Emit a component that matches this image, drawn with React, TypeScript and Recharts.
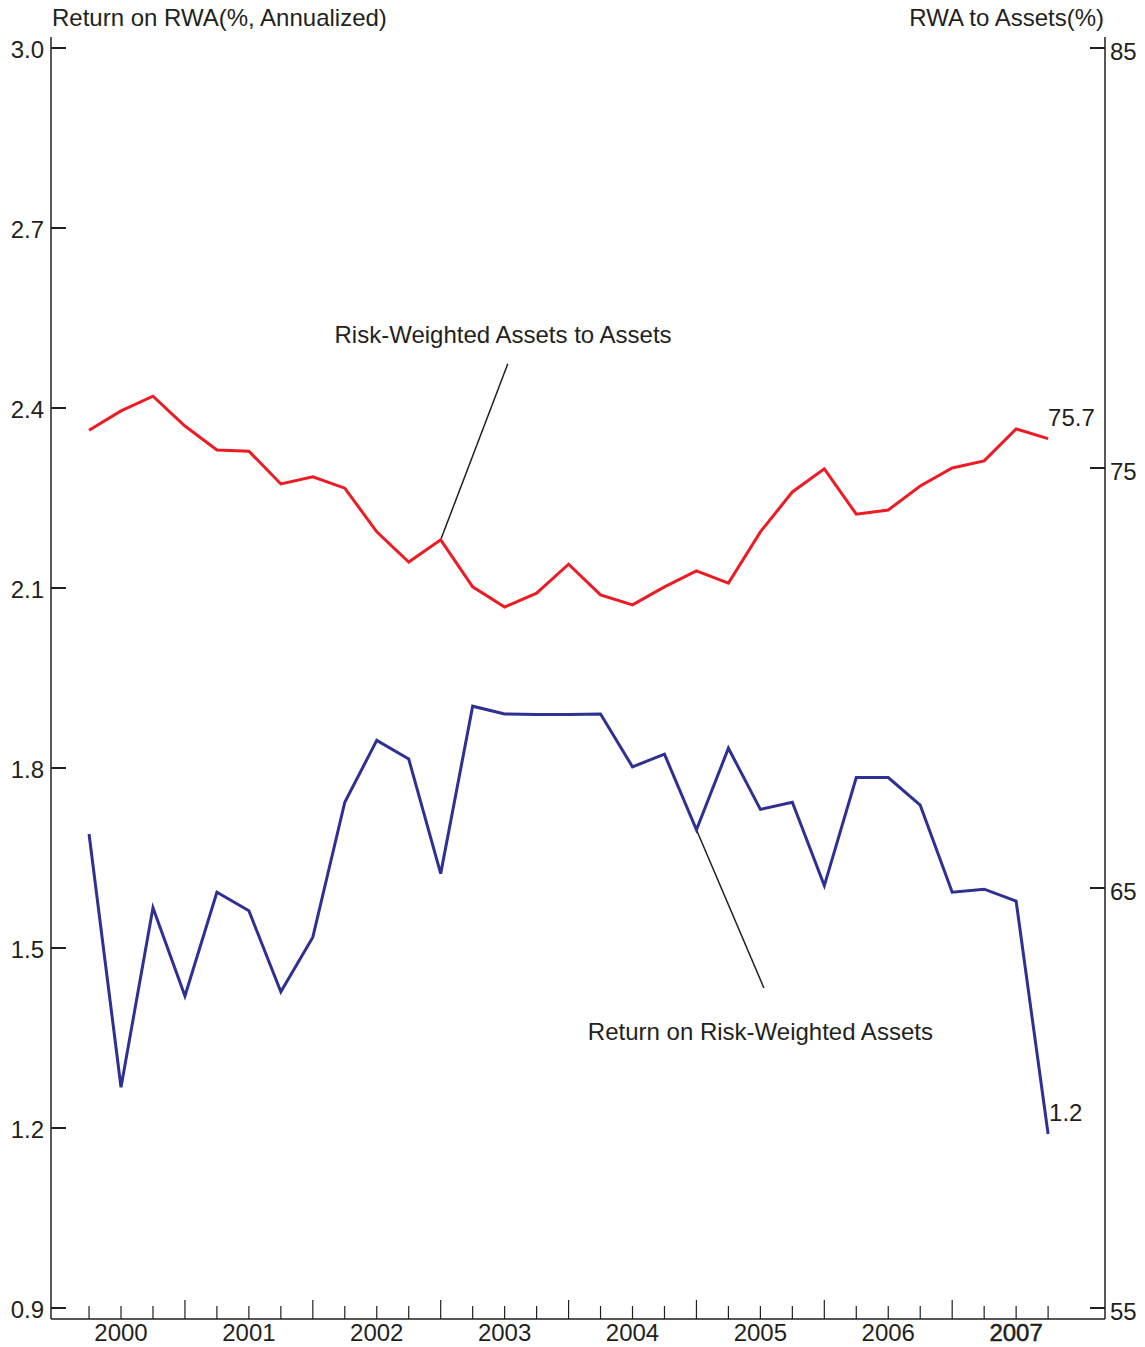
import React from 'react';
import { LineChart, Line, XAxis, YAxis, ReferenceLine, ReferenceDot } from 'recharts';

const quarters = [
  '2000Q1', '2000Q2', '2000Q3', '2000Q4',
  '2001Q1', '2001Q2', '2001Q3', '2001Q4',
  '2002Q1', '2002Q2', '2002Q3', '2002Q4',
  '2003Q1', '2003Q2', '2003Q3', '2003Q4',
  '2004Q1', '2004Q2', '2004Q3', '2004Q4',
  '2005Q1', '2005Q2', '2005Q3', '2005Q4',
  '2006Q1', '2006Q2', '2006Q3', '2006Q4',
  '2007Q1', '2007Q2', '2007Q3',
];

// Right axis: RWA to Assets (%)
const rwaToAssets = [
  75.9, 76.36, 76.71, 76.0, 75.43, 75.4, 74.62, 74.79,
  74.52, 73.48, 72.76, 73.29, 72.17, 71.69, 72.02, 72.71,
  71.98, 71.74, 72.17, 72.55, 72.26, 73.48, 74.43, 74.98,
  73.9, 74.0, 74.57, 75.0, 75.17, 75.93, 75.7,
];

// Left axis: Return on RWA (%, annualized)
const returnOnRwa = [
  1.69, 1.268, 1.567, 1.42, 1.593, 1.562, 1.427, 1.518,
  1.743, 1.846, 1.815, 1.624, 1.903, 1.89, 1.889, 1.889,
  1.89, 1.802, 1.823, 1.697, 1.833, 1.731, 1.743, 1.604,
  1.784, 1.784, 1.738, 1.593, 1.598, 1.578, 1.19,
];

const leftTicks = [0.9, 1.2, 1.5, 1.8, 2.1, 2.4, 2.7, 3.0];
const rightTicks = [55, 65, 75, 85];

const leftTitle = 'Return on RWA(%, Annualized)';
const rightTitle = 'RWA to Assets(%)';
const rwaLabel = 'Risk-Weighted Assets to Assets';
const roaLabel = 'Return on Risk-Weighted Assets';
const rwaEndLabel = '75.7';
const roaEndLabel = '1.2';

const data = quarters.map((q, i) => ({ i, q, rwa: rwaToAssets[i], roa: returnOnRwa[i] }));
const xTicks = quarters.map((_, i) => i);

const INK = '#231F20';
const RED = '#ED1C24';
const BLUE = '#2E3192';
const FONT = '"Liberation Sans", Arial, Helvetica, sans-serif';
const FS = 24;

const XDOMAIN: [number, number] = [-1.19, 31.78];

const XTick = (props: any) => {
  const { x, y, payload } = props;
  const q = quarters[payload.value];
  if (!q) return null;
  const qtr = q.slice(4);
  const isLong = qtr === 'Q4';
  const isLastYear = q.slice(0, 4) === quarters[quarters.length - 1].slice(0, 4);
  return (
    <g>
      <line x1={x} x2={x} y1={y} y2={y - (isLong ? 19 : 13)} stroke={INK} strokeWidth={1.2} />
      {qtr === 'Q2' && (
        <text
          x={x}
          y={y + 22}
          textAnchor="middle"
          fill={INK}
          stroke={isLastYear ? INK : 'none'}
          strokeWidth={isLastYear ? 0.5 : 0}
          fontFamily={FONT}
          fontSize={FS}
        >
          {q.slice(0, 4)}
        </text>
      )}
    </g>
  );
};

const LeftTick = (props: any) => {
  const { x, y, payload } = props;
  return (
    <g>
      <line x1={x} x2={x + 15} y1={y} y2={y} stroke={INK} strokeWidth={2} />
      <text x={x - 7} y={y + 10} textAnchor="end" fill={INK} fontFamily={FONT} fontSize={FS}>
        {Number(payload.value).toFixed(1)}
      </text>
    </g>
  );
};

const RightTick = (props: any) => {
  const { x, y, payload } = props;
  return (
    <g>
      <line x1={x} x2={x - 15} y1={y} y2={y} stroke={INK} strokeWidth={2} />
      <text x={x + 5} y={y + 12} textAnchor="start" fill={INK} fontFamily={FONT} fontSize={FS}>
        {String(payload.value)}
      </text>
    </g>
  );
};

const textShape = (label: string, anchor: 'start' | 'middle' | 'end', dx: number, dy: number) =>
  (p: any) => (
    <text x={p.cx + dx} y={p.cy + dy} textAnchor={anchor} fill={INK} fontFamily={FONT} fontSize={FS}>
      {label}
    </text>
  );

export default function App() {
  const last = quarters.length - 1;
  return (
    <div style={{ position: 'absolute', left: 0, top: 0, width: 1145, height: 1347, background: '#fff' }}>
      <div
        style={{
          position: 'absolute', left: 52, top: 6, fontFamily: FONT, fontSize: FS,
          lineHeight: '24px', color: INK, whiteSpace: 'nowrap',
        }}
      >
        {leftTitle}
      </div>
      <div
        style={{
          position: 'absolute', left: 0, width: 1104, top: 6, fontFamily: FONT, fontSize: FS,
          lineHeight: '24px', color: INK, textAlign: 'right', whiteSpace: 'nowrap',
        }}
      >
        {rightTitle}
      </div>
      <div style={{ position: 'absolute', left: 0, top: 0 }}>
        <LineChart width={1145} height={1347} data={data} margin={{ top: 37, right: 0, bottom: 0, left: 0 }}>
          <XAxis
            dataKey="i"
            type="number"
            domain={XDOMAIN}
            allowDataOverflow
            ticks={xTicks}
            interval={0}
            tickSize={0}
            tickMargin={0}
            tickLine={false}
            height={28}
            axisLine={{ stroke: INK, strokeWidth: 1.5 }}
            tick={(p: any) => <XTick {...p} />}
          />
          <XAxis
            xAxisId="top"
            orientation="top"
            type="number"
            domain={XDOMAIN}
            allowDataOverflow
            height={0}
            tick={false}
            tickLine={false}
            axisLine={{ stroke: INK, strokeWidth: 1.5 }}
          />
          <YAxis
            yAxisId="left"
            type="number"
            width={51}
            domain={[0.8817, 3.0183]}
            allowDataOverflow
            ticks={leftTicks}
            interval={0}
            tickSize={0}
            tickMargin={0}
            tickLine={false}
            axisLine={{ stroke: INK, strokeWidth: 1.5 }}
            tick={(p: any) => <LeftTick {...p} />}
          />
          <YAxis
            yAxisId="right"
            orientation="right"
            type="number"
            width={40}
            domain={[54.738, 85.262]}
            allowDataOverflow
            ticks={rightTicks}
            interval={0}
            tickSize={0}
            tickMargin={0}
            tickLine={false}
            axisLine={{ stroke: INK, strokeWidth: 1.5 }}
            tick={(p: any) => <RightTick {...p} />}
          />
          <ReferenceLine
            yAxisId="right"
            segment={[{ x: 11, y: rwaToAssets[11] }, { x: 13.1, y: 77.48 }]}
            stroke={INK}
            strokeWidth={1.5}
            ifOverflow="visible"
          />
          <ReferenceLine
            yAxisId="left"
            segment={[{ x: 19, y: returnOnRwa[19] }, { x: 21.11, y: 1.4333 }]}
            stroke={INK}
            strokeWidth={1.5}
            ifOverflow="visible"
          />
          <Line
            yAxisId="right"
            dataKey="rwa"
            stroke={RED}
            strokeWidth={3}
            dot={false}
            activeDot={false}
            isAnimationActive={false}
          />
          <Line
            yAxisId="left"
            dataKey="roa"
            stroke={BLUE}
            strokeWidth={3}
            dot={false}
            activeDot={false}
            isAnimationActive={false}
          />
          <ReferenceDot
            yAxisId="right"
            x={12.95}
            y={77.976}
            r={0}
            ifOverflow="visible"
            shape={textShape(rwaLabel, 'middle', 0, 0)}
          />
          <ReferenceDot
            yAxisId="left"
            x={21}
            y={1.3467}
            r={0}
            ifOverflow="visible"
            shape={textShape(roaLabel, 'middle', 0, 0)}
          />
          <ReferenceDot
            yAxisId="right"
            x={last}
            y={rwaToAssets[last]}
            r={0}
            ifOverflow="visible"
            shape={textShape(rwaEndLabel, 'start', 0, -13)}
          />
          <ReferenceDot
            yAxisId="left"
            x={last}
            y={returnOnRwa[last]}
            r={0}
            ifOverflow="visible"
            shape={textShape(roaEndLabel, 'start', 1, -13)}
          />
        </LineChart>
      </div>
    </div>
  );
}
